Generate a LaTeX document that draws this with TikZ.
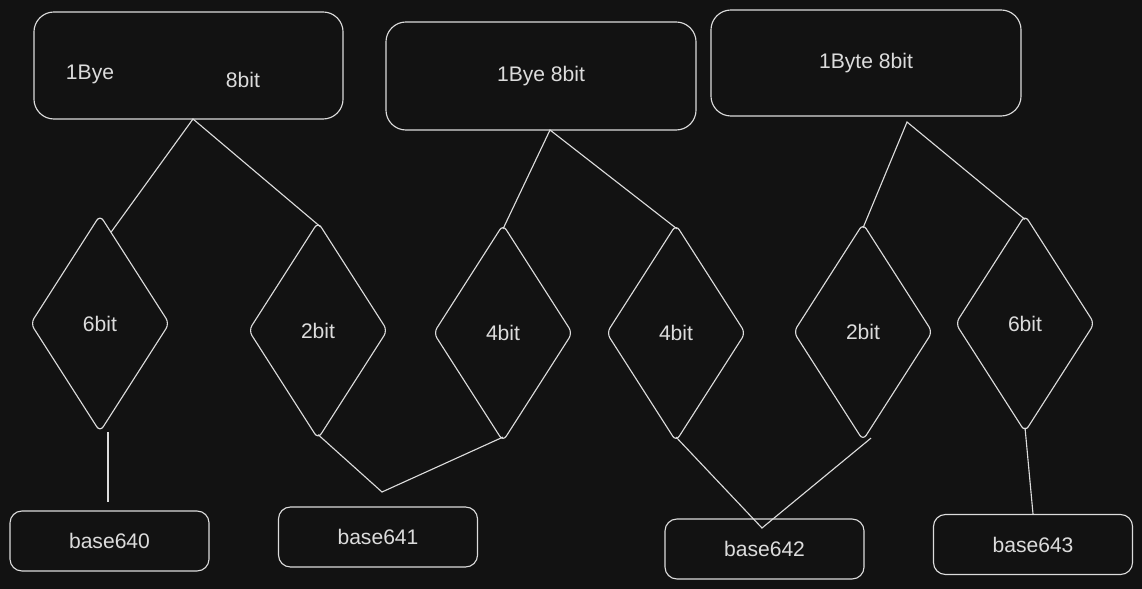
\documentclass[tikz,border=0pt]{standalone}
\usepackage{fontspec}
\setmainfont{Liberation Sans}
\usepackage{tikz}
\usetikzlibrary{shapes.geometric,calc}
\definecolor{bgdark}{HTML}{121212}
\definecolor{inkline}{HTML}{DCDCDC}

\begin{document}
\begin{tikzpicture}[x=0.025cm,y=-0.025cm,
  line width=0.8pt,
  every node/.style={text=inkline,font=\fontsize{15}{18}\selectfont},
  bytebox/.style={draw=inkline,rectangle,rounded corners=0.5cm,minimum width=7.75cm,minimum height=2.7cm},
  bitdiamond/.style={draw=inkline,diamond,rounded corners=0.15cm,inner sep=0pt,minimum width=3.475cm,minimum height=5.425cm},
  basebox/.style={draw=inkline,rectangle,rounded corners=0.3cm,minimum width=4.975cm,minimum height=1.5cm}]
\fill[bgdark] (0,0) rectangle (1142,589);
\useasboundingbox (0,0) rectangle (1142,589);

\node[bytebox,minimum width=7.725cm,minimum height=2.675cm] (byteA) at (188.5,65.5) {};
\node (byteAl) at (90,74) {1Bye};
\node (byteAr) at (243,80) {8bit};
\node[bytebox] (byteB) at (541,76) {1Bye 8bit};
\node[bytebox,minimum height=2.65cm] (byteC) at (866,63) {1Byte 8bit};

\node[bitdiamond] (bitA) at (100,323.5) {6bit};
\node[bitdiamond] (bitB) at (318,330.5) {2bit};
\node[bitdiamond] (bitC) at (503,333) {4bit};
\node[bitdiamond] (bitD) at (676,333) {4bit};
\node[bitdiamond] (bitE) at (863,332) {2bit};
\node[bitdiamond] (bitF) at (1025,323.5) {6bit};

\node[basebox] (base0) at (109.5,541) {base640};
\node[basebox] (base1) at (378,537) {base641};
\node[basebox] (base2) at (764.5,549) {base642};
\node[basebox] (base3) at (1033,544.5) {base643};

\coordinate (splitA) at (193,119);
\coordinate (splitB) at (550,130);
\coordinate (splitC) at (907,122);
\coordinate (stubtop) at (108,432);
\coordinate (stubbot) at (108,502);
\coordinate (meetB) at (382,492);
\coordinate (meetD) at (762,528);

\draw[inkline] (bitA.83) -- (splitA) -- ($(bitB.north)+(2,5)$);
\draw[inkline] ($(bitC.north)+(0,5)$) -- (splitB) -- ($(bitD.north)+(1,5)$);
\draw[inkline] ($(bitE.north)+(0,5)$) -- (splitC) -- ($(bitF.north)+(0,5)$);
\draw[inkline] (stubtop) -- (stubbot);
\draw[inkline] ($(bitB.south)+(0,-5)$) -- (meetB) -- ($(bitC.south)+(0,-5)$);
\draw[inkline] ($(bitD.south)+(0,-5)$) -- (meetD) -- ($(bitE.south)+(8,-3)$);
\draw[inkline] ($(bitF.south)+(0,-5)$) -- (base3.north);
\end{tikzpicture}
\end{document}
